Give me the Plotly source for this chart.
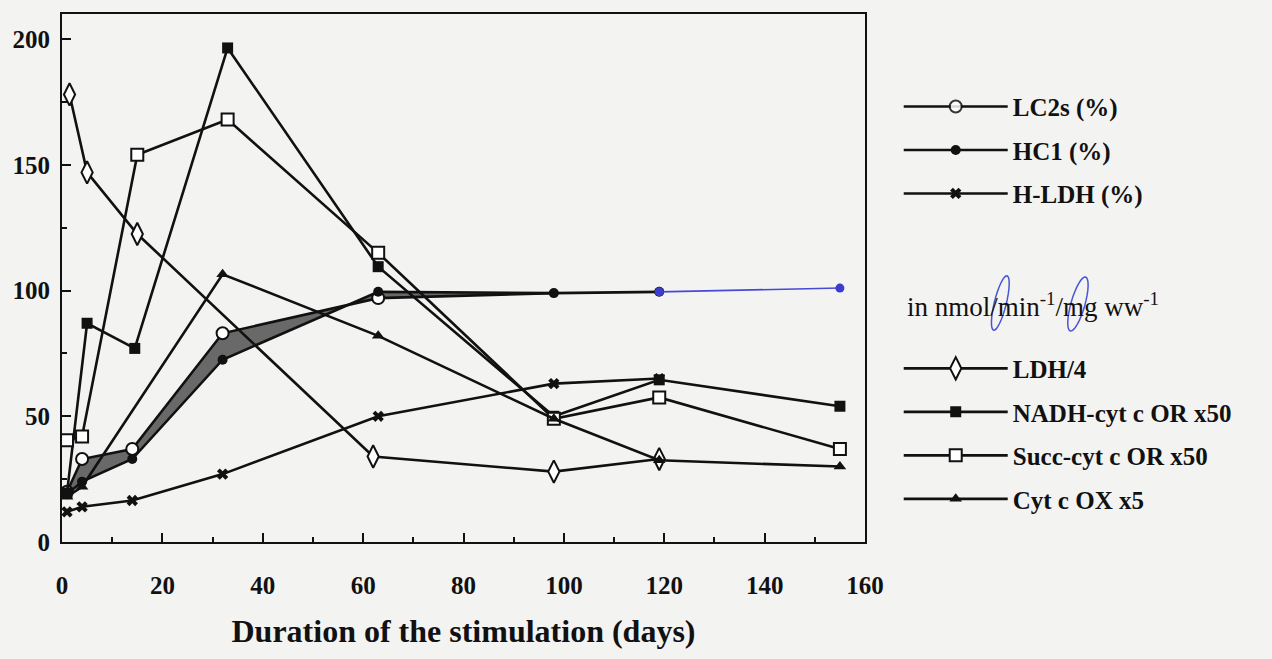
import math
import plotly.graph_objects as go

# ---- data ----
days_lc2s = [1, 4, 14, 32, 63, 98]
lc2s = [20, 33, 37, 83, 97, 99]
days_hc1 = [1, 4, 14, 32, 63, 98, 119]
hc1 = [19, 24, 33, 72.5, 99.5, 99, 99.5]
days_hc1_pen = [119, 155]
hc1_pen = [99.5, 101]
days_hldh = [1, 4, 14, 32, 63, 98, 119]
hldh = [12, 14, 16.5, 27, 50, 63, 65]
days_ldh = [1.5, 5, 15, 62, 98, 119]
ldh = [178, 147, 122.5, 34, 28, 33]
days_nadh = [1, 5, 14.5, 33, 63, 98, 119, 155]
nadh = [19.5, 87, 77, 196.5, 109.5, 50, 64.5, 54]
days_succ = [1, 4, 15, 33, 63, 98, 119, 155]
succ = [40.5, 42, 154, 168, 115, 49, 57.5, 37]
days_cox = [1, 4, 32, 63, 98, 119, 155]
cox = [18, 22, 106.5, 82, 49, 32.5, 30]

x_ticks = [0, 20, 40, 60, 80, 100, 120, 140, 160]
y_ticks = [0, 50, 100, 150, 200]

FONT = "Liberation Serif"
INK = "#111111"
LW = 2.6
W, H = 1272, 659
ML, MR, MT, MB = 58, 407, 14, 117
PW, PH = W - ML - MR, H - MT - MB

fig = go.Figure()

# shaded band between HC1 and LC2s
n_band = len(days_lc2s)
fig.add_trace(go.Scatter(x=days_hc1[:n_band], y=hc1[:n_band], mode="lines",
                         line=dict(width=0, color=INK), showlegend=False,
                         hoverinfo="skip"))
fig.add_trace(go.Scatter(x=days_lc2s, y=lc2s, mode="lines", fill="tonexty",
                         fillcolor="rgba(105,105,105,1)",
                         line=dict(width=0, color=INK), showlegend=False,
                         hoverinfo="skip"))

def add(x, y, name, symbol, size, legend, mline=None, mcolor=INK, opac=None):
    fig.add_trace(go.Scatter(
        x=x, y=y, name=name, mode="lines+markers", legend=legend,
        legendgroup=name,
        line=dict(color=INK, width=LW),
        marker=dict(symbol=symbol, size=size, color=mcolor,
                    opacity=opac,
                    line=dict(color=INK, width=mline if mline else 0)),
    ))

add(days_lc2s, lc2s, "LC2s (%)", "circle", 12, "legend", mline=2,
    mcolor="white", opac=[1] * (n_band - 1) + [0])
add(days_hc1, hc1, "HC1 (%)", "circle", 10, "legend")
add(days_hldh, hldh, "H-LDH (%)", "x", 10, "legend")
add(days_ldh, ldh, "LDH/4", "diamond-tall", 16, "legend2", mline=2, mcolor="white")
add(days_nadh, nadh, "NADH-cyt c OR x50", "square", 11, "legend2")
add(days_succ, succ, "Succ-cyt c OR x50", "square", 12, "legend2", mline=2, mcolor="white")
add(days_cox, cox, "Cyt c OX x5", "triangle-up", 11, "legend2")

# handwritten blue extension of HC1
fig.add_trace(go.Scatter(x=days_hc1_pen, y=hc1_pen, mode="lines+markers",
                         showlegend=False,
                         line=dict(color="#4848d8", width=1.6),
                         marker=dict(symbol="circle", size=9, color="#3c3cd0")))

axis_common = dict(
    showline=True, linecolor=INK, linewidth=2.2, mirror=True,
    ticks="inside", ticklen=9, tickwidth=2, tickcolor=INK,
    showgrid=False, zeroline=False,
    tickfont=dict(family=FONT, size=25, color=INK),
)

fig.update_xaxes(range=[0, 160], tickvals=x_ticks,
                 ticktext=[f"<b>{v}</b>" for v in x_ticks],
                 minor=dict(dtick=10, ticklen=5, ticks="inside", tickcolor=INK, tickwidth=2),
                 ticklabelstandoff=20,
                 title=dict(text="<b>Duration of the stimulation (days)</b>",
                            font=dict(family=FONT, size=32, color=INK),
                            standoff=22),
                 **axis_common)
fig.update_yaxes(range=[0, 210], tickvals=y_ticks,
                 ticktext=[f"<b>{v}</b>" for v in y_ticks],
                 minor=dict(dtick=25, ticklen=5, ticks="inside", tickcolor=INK, tickwidth=2),
                 ticklabelstandoff=5,
                 **axis_common)

def px2paper(px, py):
    return (px - ML) / PW, (H - MB - py) / PH

# handwritten pen loops around the slashes of the unit text
def pen_loop(cx, cy, a, b, tilt_deg):
    t = math.radians(tilt_deg)
    pts = []
    for i in range(33):
        u = 2 * math.pi * i / 32
        dx, dy = a * math.cos(u), b * math.sin(u)
        x = cx + dx * math.cos(t) + dy * math.sin(t)
        y = cy - dx * math.sin(t) + dy * math.cos(t)
        pts.append(px2paper(x, y))
    return "M" + " L".join(f"{p[0]:.5f},{p[1]:.5f}" for p in pts) + " Z"

shapes = [
    dict(type="path", xref="paper", yref="paper",
         path=pen_loop(1001, 303, 6, 28, -14),
         line=dict(color="#4a55d6", width=1.5)),
    dict(type="path", xref="paper", yref="paper",
         path=pen_loop(1079, 304, 7, 28, -16),
         line=dict(color="#4a55d6", width=1.5)),
]

ux, uy = px2paper(905, 305)
legend_font = dict(family=FONT, size=25, color=INK, weight="bold")
fig.update_layout(
    width=W, height=H,
    margin=dict(l=ML, r=MR, t=MT, b=MB),
    paper_bgcolor="#f3f3f2", plot_bgcolor="#f3f3f2",
    legend=dict(x=1.042, y=0.868, xanchor="left", yanchor="top",
                font=legend_font, bgcolor="rgba(0,0,0,0)",
                itemwidth=104, tracegroupgap=8, traceorder="grouped"),
    legend2=dict(x=1.042, y=0.372, xanchor="left", yanchor="top",
                 font=legend_font, bgcolor="rgba(0,0,0,0)",
                 itemwidth=104, tracegroupgap=8, traceorder="grouped"),
    annotations=[dict(
        text="in nmol/min<sup>-1</sup>/mg ww<sup>-1</sup>",
        xref="paper", yref="paper", x=ux, y=uy,
        xanchor="left", yanchor="middle", showarrow=False,
        font=dict(family=FONT, size=27, color=INK))],
    shapes=shapes,
)

fig.write_html("out.html", config={"displayModeBar": False},
               post_script="document.body.style.margin='0';")
